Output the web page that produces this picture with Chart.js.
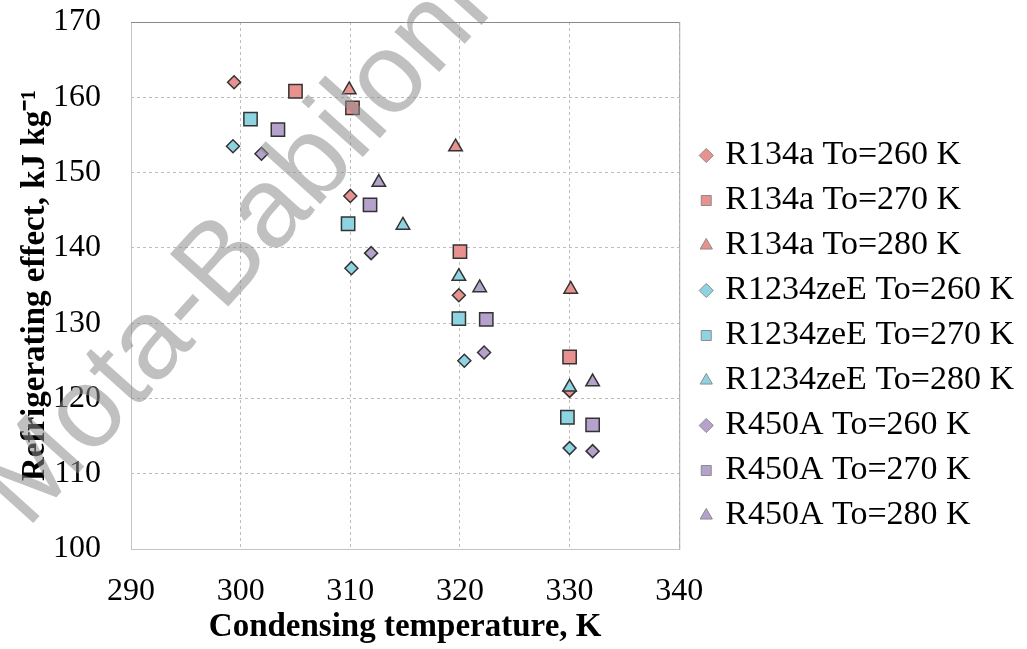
<!DOCTYPE html>
<html>
<head>
<meta charset="utf-8">
<script src="https://cdn.jsdelivr.net/npm/chart.js@4.4.1/dist/chart.umd.min.js"></script>
<style>
  html, body { margin: 0; padding: 0; background: #fff; }
</style>
</head>
<body>
<canvas id="chart" width="1027" height="649"></canvas>
<script>
// Condensing temperature (K) and refrigerating effect (kJ/kg)
const r134a260X = [299.4, 310.0, 319.9, 330.0];
const r134a260Y = [162.0, 146.9, 133.7, 121.0];
const r134a270X = [305.0, 310.2, 320.0, 330.0];
const r134a270Y = [160.8, 158.6, 139.5, 125.5];
const r134a280X = [309.9, 319.6, 330.1];
const r134a280Y = [161.0, 153.4, 134.5];

const zee260X = [299.3, 310.1, 320.4, 330.0];
const zee260Y = [153.5, 137.3, 125.0, 113.4];
const zee270X = [300.9, 309.8, 319.9, 329.8];
const zee270Y = [157.1, 143.2, 130.6, 117.5];
const zee280X = [314.8, 319.9, 330.0];
const zee280Y = [143.0, 136.2, 121.5];

const r450a260X = [301.9, 311.9, 322.2, 332.1];
const r450a260Y = [152.5, 139.3, 126.1, 113.0];
const r450a270X = [303.4, 311.8, 322.4, 332.1];
const r450a270Y = [155.7, 145.7, 130.5, 116.5];
const r450a280X = [312.6, 321.8, 332.1];
const r450a280Y = [148.7, 134.7, 122.2];

const seriesLabels = [
    'R134a To=260 K', 'R134a To=270 K', 'R134a To=280 K',
    'R1234zeE To=260 K', 'R1234zeE To=270 K', 'R1234zeE To=280 K',
    'R450A To=260 K', 'R450A To=270 K', 'R450A To=280 K'
];
const xTicksMin = 290, xTicksMax = 340, xStep = 10;
const yTicksMin = 100, yTicksMax = 170, yStep = 10;

const pink = '#e8928f', cyan = '#8dd3e1', purple = '#b4a1cc';
const serif = '"Liberation Serif", "Times New Roman", serif';

function pts(xs, ys) {
    return xs.map((x, i) => ({ x: x, y: ys[i] }));
}

// diamond / square / triangle sizes
const marker = {
    rectRot: 6.5,
    rect: 9.4,
    triangle: 7.8
};

function makeSet(idx, xs, ys, color, style) {
    return {
        label: seriesLabels[idx],
        data: pts(xs, ys),
        backgroundColor: color,
        borderColor: '#333',
        pointStyle: style,
        pointRadius: marker[style],
        pointHoverRadius: marker[style],
        pointBorderWidth: 1.5,
        showLine: false,
        order: 20 - idx // later series drawn on top
    };
}

const datasets = [
    makeSet(0, r134a260X, r134a260Y, pink, 'rectRot'),
    makeSet(1, r134a270X, r134a270Y, pink, 'rect'),
    makeSet(2, r134a280X, r134a280Y, pink, 'triangle'),
    makeSet(3, zee260X, zee260Y, cyan, 'rectRot'),
    makeSet(4, zee270X, zee270Y, cyan, 'rect'),
    makeSet(5, zee280X, zee280Y, cyan, 'triangle'),
    makeSet(6, r450a260X, r450a260Y, purple, 'rectRot'),
    makeSet(7, r450a270X, r450a270Y, purple, 'rect'),
    makeSet(8, r450a280X, r450a280Y, purple, 'triangle')
];

// let the legend be as wide as its labels (default caps it at a fraction of the chart)
const wideLegend = {
    id: 'wideLegend',
    afterInit(chart) {
        const leg = chart.legend;
        const orig = leg.update;
        leg.update = function(maxWidth, maxHeight, margins) {
            orig.call(this, 360, maxHeight, margins);
        };
    }
};

// frame around the plot area
const framePlugin = {
    id: 'frame',
    beforeDatasetsDraw(chart) {
        const { ctx, chartArea: a } = chart;
        ctx.save();
        ctx.lineWidth = 1;
        ctx.strokeStyle = '#c4c4c4';
        ctx.beginPath();
        ctx.moveTo(a.left + 0.5, a.top);
        ctx.lineTo(a.left + 0.5, a.bottom + 0.5);
        ctx.lineTo(a.right, a.bottom + 0.5);
        ctx.stroke();
        ctx.strokeStyle = '#8a8a8a';
        ctx.beginPath();
        ctx.moveTo(a.left, a.top + 0.5);
        ctx.lineTo(a.right + 0.5, a.top + 0.5);
        ctx.stroke();
        ctx.strokeStyle = '#a8a8a8';
        ctx.beginPath();
        ctx.moveTo(a.right + 0.5, a.top);
        ctx.lineTo(a.right + 0.5, a.bottom + 1);
        ctx.stroke();
        ctx.restore();
    }
};

// the grey watermark across the chart
const watermarkPlugin = {
    id: 'watermark',
    afterDraw(chart) {
        const ctx = chart.ctx;
        ctx.save();
        ctx.translate(27, 530);
        ctx.rotate(-48 * Math.PI / 180);
        ctx.font = '114px "Liberation Sans", Arial, sans-serif';
        ctx.fillStyle = 'rgba(140, 140, 140, 0.55)';
        ctx.textBaseline = 'alphabetic';
        ctx.fillText('Mota-Babiloni', 0, 0);
        ctx.restore();
    }
};

const ctx = document.getElementById('chart').getContext('2d');
new Chart(ctx, {
    type: 'scatter',
    data: { datasets: datasets },
    options: {
        responsive: false,
        animation: false,
        layout: { padding: { top: 22, right: 3, bottom: 0, left: 0 } },
        plugins: {
            tooltip: { enabled: false },
            legend: {
                position: 'right',
                align: 'center',
                labels: {
                    usePointStyle: true,
                    boxWidth: 4,
                    boxHeight: 10,
                    padding: 11,
                    color: '#000',
                    font: { family: serif, size: 34 },
                    sort: (a, b) => a.datasetIndex - b.datasetIndex,
                    generateLabels(chart) {
                        const items = Chart.defaults.plugins.legend.labels.generateLabels(chart);
                        return items.map(it => Object.assign(it, { lineWidth: 1, strokeStyle: '#8c8c8c' }));
                    }
                }
            }
        },
        scales: {
            x: {
                type: 'linear',
                min: xTicksMin,
                max: xTicksMax,
                ticks: {
                    stepSize: xStep,
                    color: '#000',
                    font: { family: serif, size: 32 },
                    padding: 2
                },
                grid: { color: '#bdbdbd', lineWidth: 1, drawTicks: true, tickLength: 21, tickColor: 'rgba(0,0,0,0)' },
                border: { display: false, dash: [3, 3] },
                title: {
                    display: true,
                    text: 'Condensing temperature, K',
                    color: '#000',
                    font: { family: serif, size: 33, weight: 'bold', lineHeight: 1.0 },
                    padding: { top: 0, bottom: 5 }
                },
                afterFit(scale) { scale.height = 100; }
            },
            y: {
                type: 'linear',
                min: yTicksMin,
                max: yTicksMax,
                ticks: {
                    stepSize: yStep,
                    color: '#000',
                    font: { family: serif, size: 32 },
                    padding: 2
                },
                grid: { color: '#bdbdbd', lineWidth: 1, drawTicks: true, tickLength: 28, tickColor: 'rgba(0,0,0,0)' },
                border: { display: false, dash: [3, 3] },
                title: {
                    display: true,
                    text: 'Refrigerating effect, kJ kg\u207B\u00B9',
                    color: '#000',
                    font: { family: serif, size: 33, weight: 'bold' },
                    padding: { top: 16, bottom: 0 }
                },
                afterFit(scale) { scale.width = 131; }
            },
            gap: {
                type: 'linear',
                position: 'right',
                display: true,
                grid: { display: false },
                ticks: { display: false },
                border: { display: false },
                afterFit(scale) { scale.width = 14; }
            }
        }
    },
    plugins: [wideLegend, framePlugin, watermarkPlugin]
});
</script>
</body>
</html>
